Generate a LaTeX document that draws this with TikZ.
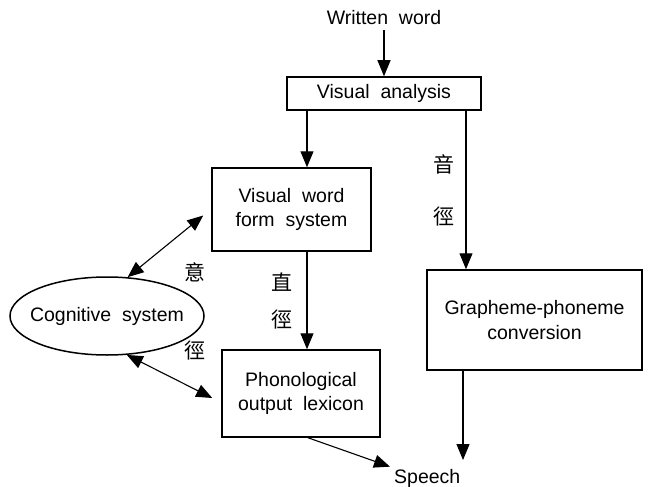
\documentclass[tikz,border=0pt]{standalone}
\usepackage{fontspec}
\setmainfont{Liberation Sans}
\newfontfamily\cjk{Noto Sans CJK SC}
\usetikzlibrary{arrows.meta,shapes.geometric,calc}
\begin{document}
\begin{tikzpicture}[x=1pt,y=-1pt,
  every node/.style={font=\fontsize{19.5}{24.5}\selectfont, align=center, inner sep=0pt},
  boxnode/.style={draw, line width=1.5pt},
  cjklbl/.style={font=\fontsize{21}{21}\selectfont\cjk},
  arr/.style={line width=1.1pt, -{Triangle[length=16pt,width=13pt]}},
  dbl/.style={line width=1.1pt, {Triangle[length=16pt,width=13pt]}-{Triangle[length=16pt,width=13pt]}}]
\useasboundingbox (0,0) rectangle (648,487);
\node (ww) at (384,18) {Written\ \ word};
\node[boxnode, minimum width=194pt, minimum height=33pt] (va) at (384,93.5) {Visual\ \ analysis};
\node[boxnode, minimum width=159pt, minimum height=83pt] (vwfs) at (291.5,209.5) {Visual\ \ word\\form\ \ system};
\node[boxnode, minimum width=158pt, minimum height=87pt] (pol) at (301,393.5) {Phonological\\output\ \ lexicon};
\node[boxnode, minimum width=215pt, minimum height=100pt] (gpc) at (534.5,320) {Grapheme-phoneme\\conversion};
\node[draw, ellipse, line width=1.5pt, minimum width=194pt, minimum height=78pt] (cog) at (107,316) {\makebox[0pt]{Cognitive\ \ system}};
\node[anchor=base west] (speech) at (394,483) {Speech};
\node[cjklbl] (yi) at (195,272) {意};
\node[cjklbl] (jing1) at (195,351) {徑};
\node[cjklbl] (zhi) at (282,282) {直};
\node[cjklbl] (jing2) at (282,320) {徑};
\node[cjklbl] (yin) at (444,164) {音};
\node[cjklbl] (jing3) at (444,217) {徑};
\coordinate (xl) at (307,0);
\coordinate (xr) at (466,0);
\coordinate (xg) at (463,0);
\coordinate (gend) at (463,460);
\draw[arr] (ww.south) ++(0,5) -- (va.north);
\draw[arr] (va.south -| xl) -- (vwfs.north -| xl);
\draw[arr] (va.south -| xr) -- (gpc.north -| xr);
\draw[arr] (vwfs.south -| xl) -- (pol.north -| xl);
\draw[arr] (gpc.south -| xg) -- (gend);
\draw[arr] ($(pol.south)+(7,0)$) -- ($(speech.north west)+(-4,-2)$);
\draw[dbl] (cog.62) -- ($(vwfs.west)+(-8,6)$);
\draw[dbl] (cog.-63) -- ($(pol.west)+(-9,4.5)$);
\end{tikzpicture}
\end{document}
